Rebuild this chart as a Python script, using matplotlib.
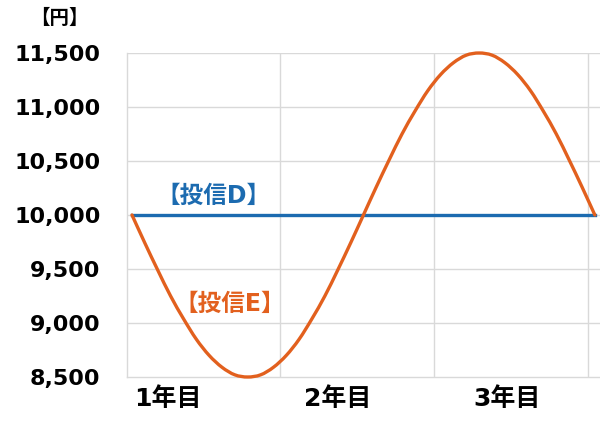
import matplotlib
matplotlib.use("Agg")
import matplotlib.pyplot as plt
from matplotlib.path import Path
from matplotlib.patches import PathPatch

plt.rcParams['font.family'] = ['DejaVu Sans', 'Noto Sans CJK JP']

# months since start
months_e = list(range(37))
# fund E (yen)
values_e = [10000, 9740, 9490, 9250, 9040, 8850, 8700, 8590, 8520, 8500,
            8520, 8590, 8700, 8850, 9040, 9250, 9490, 9740, 10000,
            10260, 10510, 10750, 10960, 11150, 11300, 11410, 11480, 11500,
            11480, 11410, 11300, 11150, 10960, 10750, 10510, 10260, 10000]
# fund D stays flat
months_d = [0, 36]
values_d = [10000, 10000]

year_labels = ['1年目', '2年目', '3年目']
y_ticks = [8500, 9000, 9500, 10000, 10500, 11000, 11500]

blue = '#1c6bb0'
orange = '#e2601e'
grid = '#d9d9d9'


def smooth_path(xs, ys):
    # excel-like smoothed line: bezier segments through every data point
    pts = list(zip(xs, ys))
    verts = [pts[0]]
    codes = [Path.MOVETO]
    n = len(pts)
    for i in range(n - 1):
        p0 = pts[max(i - 1, 0)]
        p1 = pts[i]
        p2 = pts[i + 1]
        p3 = pts[min(i + 2, n - 1)]
        c1 = (p1[0] + (p2[0] - p0[0]) / 6, p1[1] + (p2[1] - p0[1]) / 6)
        c2 = (p2[0] - (p3[0] - p1[0]) / 6, p2[1] - (p3[1] - p1[1]) / 6)
        verts += [c1, c2, p2]
        codes += [Path.CURVE4] * 3
    return Path(verts, codes)


fig = plt.figure(figsize=(6, 4.23), dpi=100)
ax = fig.add_axes([127/600, 46/423, 473/600, 324/423])

ax.set_xlim(-0.39, 36.4)
ax.set_ylim(8500, 11500)

# gridlines
for y in y_ticks[1:]:
    ax.axhline(y, color=grid, lw=1, zorder=0)
for x in [11.5, 23.5, 35.5]:
    ax.axvline(x, color=grid, lw=1, zorder=0)

ax.plot(months_d, values_d, color=blue, lw=2.4, zorder=3, clip_on=False)
ax.add_patch(PathPatch(smooth_path(months_e, values_e), facecolor='none',
                       edgecolor=orange, lw=2.4, zorder=4, clip_on=False,
                       capstyle='round', joinstyle='round'))

for s in ['top', 'right']:
    ax.spines[s].set_visible(False)
for s in ['left', 'bottom']:
    ax.spines[s].set_color(grid)
    ax.spines[s].set_linewidth(1)

ax.set_yticks(y_ticks)
ax.set_yticklabels([f'{v:,}' for v in y_ticks], fontsize=16, fontweight='bold')
ax.tick_params(axis='y', length=0, pad=19)

ax.set_xticks([2.8, 16.0, 29.2])
ax.set_xticklabels(year_labels, fontsize=18, fontweight='bold')
ax.tick_params(axis='x', length=0, pad=7)

fig.text(59/600, 1 - 18/423, '【円】', ha='center', va='center',
         fontsize=14, fontweight='bold')

ax.text(6.3, 10180, '【投信D】', color=blue, ha='center', va='center',
        fontsize=17, fontweight='bold')
ax.text(7.6, 9175, '【投信E】', color=orange, ha='center', va='center',
        fontsize=17, fontweight='bold')

fig.savefig('out.png', dpi=100)
